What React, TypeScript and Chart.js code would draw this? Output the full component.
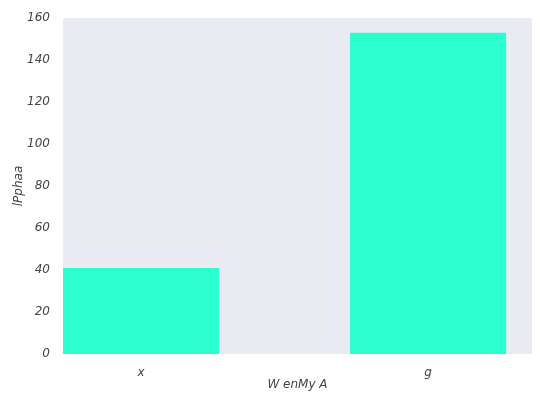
import { useEffect, useRef } from "react";
import Chart from "chart.js/auto";

const categories = ["x", "g"];
const values = [41, 153];
const yTicks = [0, 20, 40, 60, 80, 100, 120, 140, 160];

const bgPlugin = {
  id: "bg",
  beforeDraw(chart: any) {
    const { ctx, chartArea: a } = chart;
    ctx.save();
    ctx.fillStyle = "#eaeaf2";
    ctx.fillRect(a.left, a.top, a.right - a.left, a.bottom - a.top);
    ctx.restore();
  },
};

export default function App() {
  const canvasRef = useRef<HTMLCanvasElement>(null);
  const chartRef = useRef<any>(null);

  useEffect(() => {
    const ctx = canvasRef.current!.getContext("2d")!;
    if (chartRef.current) chartRef.current.destroy();
    const font = { family: "DejaVu Sans", size: 12, style: "italic" as const };
    chartRef.current = new Chart(ctx, {
      type: "bar",
      data: {
        datasets: [
          {
            data: values.map((v, i) => ({ x: i, y: v })),
            backgroundColor: "#2bffcf",
            barPercentage: 0.544,
            categoryPercentage: 1,
          },
        ],
      },
      options: {
        animation: false,
        responsive: false,
        layout: { padding: { top: 18, right: 12, left: 10, bottom: 14 } },
        plugins: { legend: { display: false }, tooltip: { enabled: false } },
        scales: {
          x: {
            type: "linear",
            min: -0.272,
            max: 1.362,
            offset: false,
            grid: { display: false, offset: false },
            border: { display: false },
            afterBuildTicks: (s: any) => {
              s.ticks = categories.map((_, i) => ({ value: i }));
            },
            afterFit: (s: any) => {
              s.height = 40;
            },
            ticks: {
              color: "#444",
              font,
              padding: 4,
              callback: (v: any) => categories[v] ?? "",
            },
            title: { display: true, text: "W enMy A", color: "#444", font, padding: 2 },
          },
          y: {
            min: 0,
            max: 160,
            grid: { display: false },
            border: { display: false },
            afterBuildTicks: (s: any) => {
              s.ticks = yTicks.map((v) => ({ value: v }));
            },
            afterFit: (s: any) => {
              s.width = 53;
            },
            ticks: { color: "#444", font, padding: 5 },
            title: { display: true, text: "lPphaa", color: "#444", font, padding: 2 },
          },
        },
      },
      plugins: [bgPlugin],
    });
    return () => chartRef.current?.destroy();
  }, []);

  return (
    <div style={{ position: "fixed", left: 0, top: 0, width: 544, height: 408, background: "#fff" }}>
      <canvas ref={canvasRef} width={544} height={408}></canvas>
    </div>
  );
}
